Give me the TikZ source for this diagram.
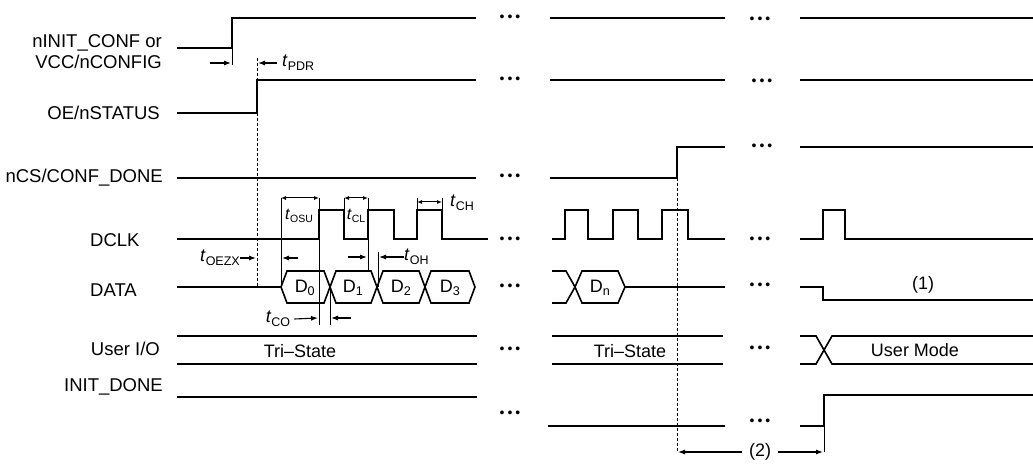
\documentclass[tikz,border=0pt]{standalone}
\usepackage{fontspec}
\setmainfont{Liberation Sans}
\usepackage{tikz}
\usetikzlibrary{arrows.meta}
\newcommand{\tparam}[1]{\textit{t}\raisebox{-0.45ex}{\fontsize{12.5}{13}\selectfont #1}}

\begin{document}
\begin{tikzpicture}[
    x=1pt, y=-1pt,
    wave/.style={line width=1.6pt},
    guide/.style={densely dashed, line width=0.7pt},
    dim/.style={-{Latex[length=7pt,width=5pt]}, line width=1.1pt},
    bracket/.style={{Latex[length=5pt,width=4pt]}-{Latex[length=5pt,width=4pt]}, line width=1pt},
    sig/.style={anchor=east, inner sep=0pt, font=\fontsize{18.5}{21}\selectfont, align=right},
    tlabel/.style={inner sep=0pt, font=\fontsize{18}{20}\selectfont},
    dots/.style={inner sep=0pt, font=\fontsize{14}{14}\selectfont}
]
    \useasboundingbox (0,0) rectangle (1033,465);

    % signal names
    \node[sig] (ninit) at (162,52) {nINIT\_CONF or\\VCC/nCONFIG};
    \node[sig] (oe) at (160,113) {OE/nSTATUS};
    \node[sig] (ncs) at (163,178) {nCS/CONF\_DONE};
    \node[sig, anchor=west] (dclk) at (90,240) {DCLK};
    \node[sig, anchor=west] (data) at (90,290) {DATA};
    \node[sig] (userio) at (160,349) {User I/O};
    \node[sig] (initdone) at (163,387) {INIT\_DONE};

    % nINIT_CONF
    \draw[wave] (177,48) -| (232,18) -- (476,18);
    \draw[wave] (550,18) -- (725,18);
    \draw[wave] (800,18) -- (1033,18);
    \draw[line width=1pt] (232,48) -- (232,65);

    % OE/nSTATUS
    \draw[wave] (177,113) -| (257,80) -- (476,80);
    \draw[wave] (550,80) -- (725,80);
    \draw[wave] (800,80) -- (1033,80);
    \draw[guide] (257,58) -- (257,287);

    % nCS/CONF_DONE
    \draw[wave] (177,178) -- (476,178);
    \draw[wave] (550,178) -| (677,147) -- (725,147);
    \draw[wave] (800,147) -- (1033,147);
    \draw[guide] (677,178) -- (677,452);

    % DCLK
    \draw[wave] (177,239) -- (319,239) |- (344,210) |- (368,239) |- (394,210)
        |- (417,239) |- (442,210) |- (488,239);
    \draw[wave] (552,239) -- (565,239) |- (588,210) |- (613,239) |- (638,210)
        |- (662,239) |- (688,210) |- (725,239);
    \draw[wave] (800,239) -- (823,239) |- (845,210) |- (1033,239);

    % DATA
    \draw[wave] (177,287) -- (281,287);
    \draw[wave] (281,287) -- (287,271) -- (324,271) -- (330,287) -- (324,303) -- (287,303) -- cycle;
    \draw[wave] (330,287) -- (336,271) -- (371,271) -- (377,287) -- (371,303) -- (336,303) -- cycle;
    \draw[wave] (377,287) -- (383,271) -- (419,271) -- (425,287) -- (419,303) -- (383,303) -- cycle;
    \draw[wave] (425,287) -- (431,271) -- (469,271) -- (475,287) -- (469,303) -- (431,303) -- cycle;
    \node[tlabel] (d0) at (305,288) {D\textsubscript{0}};
    \node[tlabel] (d1) at (353,288) {D\textsubscript{1}};
    \node[tlabel] (d2) at (401,288) {D\textsubscript{2}};
    \node[tlabel] (d3) at (450,288) {D\textsubscript{3}};
    \draw[wave] (552,271) -- (566,271) -- (575,287) -- (566,303) -- (552,303);
    \draw[wave] (575,287) -- (582,271) -- (618,271) -- (625,287) -- (618,303) -- (582,303) -- cycle;
    \node[tlabel] (dn) at (600,288) {D\textsubscript{n}};
    \draw[wave] (625,287) -- (725,287);
    \draw[wave] (800,287) -- (823,287) -- (823,300) -- (1033,300);
    \node[tlabel] (note1) at (923,285) {(1)};

    % User I/O
    \draw[wave] (177,336) -- (477,336);
    \draw[wave] (177,364) -- (477,364);
    \node[tlabel] (tri1) at (300,351) {Tri--State};
    \draw[wave] (552,336) -- (723,336);
    \draw[wave] (552,364) -- (723,364);
    \node[tlabel] (tri2) at (630,351) {Tri--State};
    \draw[wave] (800,336) -- (816,336) -- (832,364) -- (1033,364);
    \draw[wave] (800,364) -- (816,364) -- (832,336) -- (1033,336);
    \node[tlabel] (user) at (915,350) {User Mode};

    % INIT_DONE
    \draw[wave] (177,397) -- (477,397);
    \draw[wave] (548,426) -- (725,426);
    \draw[wave] (800,426) -| (824,395) -- (1033,395);
    \draw[line width=1pt] (824,426) -- (824,452);

    % gaps
    \foreach \x/\y [count=\i] in {510/18, 760/20, 510/80, 762/82, 510/177, 762/147,
        510/240, 760/240, 510/287, 760/286, 510/350, 760/349, 510/414, 760/422}
        \node[dots] (gap\i) at (\x,\y) {\textbullet\hspace{3pt}\textbullet\hspace{3pt}\textbullet};

    % timing parameters
    \draw[dim] (210,63) -- (231,63);
    \draw[dim] (277,63) -- (258,63);
    \node[tlabel, anchor=west] (tpdr) at (282,63) {\tparam{PDR}};

    \node[tlabel, anchor=east] (toezx) at (240,258) {\tparam{OEZX}};
    \draw[dim] (toezx.east) -- (256,258);
    \draw[dim] (298,258) -- (282,258);

    \draw[line width=1pt] (281,198) -- (281,287);
    \draw[line width=1pt] (319,198) -- (319,325);
    \draw[bracket] (281,198) -- (319,198);
    \node[tlabel, font=\fontsize{16}{18}\selectfont] (tosu) at (299,216) {\textit{t}\raisebox{-0.4ex}{\fontsize{10.5}{11}\selectfont OSU}};

    \draw[line width=1pt] (344,198) -- (344,210);
    \draw[line width=1pt] (368,198) -- (368,271);
    \draw[bracket] (344,198) -- (368,198);
    \node[tlabel, font=\fontsize{16}{18}\selectfont] (tcl) at (356,216) {\textit{t}\raisebox{-0.4ex}{\fontsize{10.5}{11}\selectfont CL}};

    \draw[line width=1pt] (417,198) -- (417,210);
    \draw[line width=1pt] (442,198) -- (442,210);
    \draw[bracket] (417,202) -- (442,202);
    \node[tlabel, anchor=west] (tch) at (450,203) {\tparam{CH}};

    \draw[line width=1pt] (378,252) -- (378,287);
    \draw[dim] (348,257) -- (367,257);
    \node[tlabel, anchor=west] (toh) at (404,257) {\tparam{OH}};
    \draw[dim] (toh.west) -- (379,257);

    \draw[line width=1pt] (330,287) -- (330,325);
    \node[tlabel] (tco) at (278,319) {\tparam{CO}};
    \draw[dim] ([xshift=4pt]tco.east) -- (318,318);
    \draw[dim] (351,318) -- (331,318);

    % configuration to user mode delay
    \node[tlabel] (note2) at (760,452) {(2)};
    \draw[dim] ([xshift=-7pt]note2.west) -- (678,452);
    \draw[dim] ([xshift=7pt]note2.east) -- (823,452);
\end{tikzpicture}
\end{document}
